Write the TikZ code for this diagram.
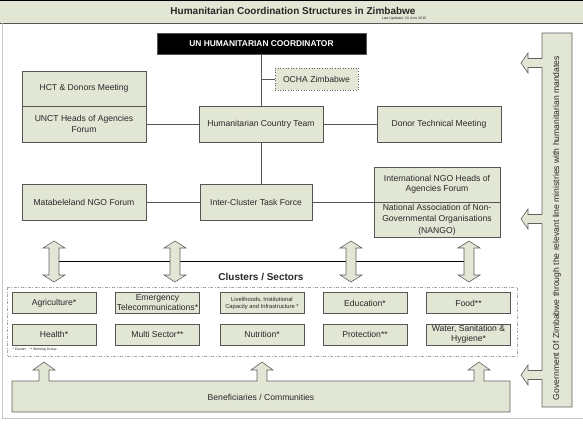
\documentclass[tikz,border=0pt]{standalone}
\usepackage{fontspec}
\setmainfont{Liberation Sans}
\definecolor{boxfill}{RGB}{226,230,212}
\definecolor{edgecol}{RGB}{85,85,85}
\definecolor{txtcol}{RGB}{40,40,40}
\begin{document}
\begin{tikzpicture}[x=1pt,y=-1pt,
  box/.style={draw=edgecol, fill=boxfill, line width=0.6pt, inner sep=0pt, text=txtcol,
    font=\fontsize{8.6}{10.5}\selectfont, align=center},
  cl/.style={box, minimum width=84pt, minimum height=21pt, font=\fontsize{8.6}{10}\selectfont},
  conn/.style={draw=edgecol, line width=0.6pt},
  blockarrow/.style={draw=gray!75!black, fill=boxfill, line width=0.6pt},
  dbl/.pic={\draw[blockarrow] (0,-20.5) -- (11,-13.5) -- (5,-13.5) -- (5,13.5) -- (11,13.5)
     -- (0,20.5) -- (-11,13.5) -- (-5,13.5) -- (-5,-13.5) -- (-11,-13.5) -- cycle;}]
\useasboundingbox (0,0) rectangle (583,447);
% title bar
\fill[boxfill] (0,0) rectangle (583,23);
\draw[black, line width=1.2pt] (0,0.6) -- (583,0.6);
\draw[edgecol, line width=0.8pt] (0,23) -- (583,23);
\node[font=\bfseries\fontsize{10}{12}\selectfont, text=txtcol] (title) at (293,10.5) {Humanitarian Coordination Structures in Zimbabwe};
\node[font=\fontsize{3.5}{4}\selectfont, text=txtcol] (upd) at (404,18.5) {Last Updated: 24 June 2010};
% outer frame
\draw[gray!45, line width=1pt] (2.5,23) -- (2.5,418) -- (583,418);

% top nodes
\node[box, fill=black, text=white, font=\bfseries\fontsize{8.4}{10}\selectfont,
  minimum width=209pt, minimum height=21pt] (un) at (261.5,43.5) {UN HUMANITARIAN COORDINATOR};
\node[box, draw=gray!80!black, dotted, line width=0.9pt, minimum width=83pt, minimum height=22pt] (ocha) at (316.5,79) {OCHA Zimbabwe};
\node[box, minimum width=124pt, minimum height=35pt] (hctd) at (84,88.5) {HCT \& Donors Meeting};
\node[box, minimum width=124pt, minimum height=36pt] (unct) at (84,124) {UNCT Heads of Agencies\\Forum};
\node[box, minimum width=124pt, minimum height=36pt] (hct) at (261,124) {Humanitarian Country Team};
\node[box, minimum width=124pt, minimum height=36pt] (dtm) at (439,124) {Donor Technical Meeting};
\node[box, minimum width=124pt, minimum height=36pt] (mat) at (84,202) {Matabeleland NGO Forum};
\node[box, minimum width=112pt, minimum height=36pt] (ictf) at (256,202) {Inter-Cluster Task Force};
\node[box, minimum width=126pt, minimum height=35pt] (ingo) at (437,184.5) {International NGO Heads of\\Agencies Forum};
\node[box, minimum width=126pt, minimum height=35pt, font=\fontsize{8.6}{11.3}\selectfont] (nango) at (437,219.5) {National Association of Non-\\Governmental Organisations\\(NANGO)};

% connectors
\coordinate (ochaj) at (261,79);
\draw[conn] (un.south -| hct.north) -- (hct.north);
\draw[conn] (ochaj) -- (ocha.west);
\draw[conn] (unct.east) -- (hct.west);
\draw[conn] (hct.east) -- (dtm.west);
\draw[conn] (hct.south) -- (hct.south |- ictf.north);
\draw[conn] (mat.east) -- (ictf.east -| ictf.west);
\draw[conn] (ictf.east) -- (ictf.east -| ingo.west);

% double arrows and thick line
\coordinate (da1) at (54,261.5);
\coordinate (da2) at (175,261.5);
\coordinate (da3) at (351,261.5);
\coordinate (da4) at (469,261.5);
\draw[black, line width=1.6pt] (da1) -- (da4);
\pic at (da1) {dbl};
\pic at (da2) {dbl};
\pic at (da3) {dbl};
\pic at (da4) {dbl};

\node[font=\bfseries\fontsize{10}{12}\selectfont, text=txtcol] (clusters) at (261,277) {Clusters / Sectors};

% clusters
\draw[gray!70, line width=0.5pt, dash pattern=on 3pt off 1.5pt on 1pt off 1.5pt] (7,287) rectangle (517,356);
\node[cl] (agri) at (54,303) {Agriculture*};
\node[cl] (emer) at (157.5,303) {Emergency\\Telecommunications*};
\node[cl, font=\fontsize{5.8}{7}\selectfont] (liv) at (262,303) {Livelihoods, Institutional\\Capacity and Infrastructure *};
\node[cl] (edu) at (365,303) {Education*};
\node[cl] (food) at (468.5,303) {Food**};
\node[cl] (health) at (54,334.5) {Health*};
\node[cl] (multi) at (157.5,334.5) {Multi Sector**};
\node[cl] (nutr) at (262,334.5) {Nutrition*};
\node[cl] (prot) at (365,334.5) {Protection**};
\node[cl] (wash) at (468.5,334.5) {Water, Sanitation \&\\Hygiene*};
\node[font=\fontsize{3.5}{4}\selectfont, text=txtcol, anchor=west] (legend) at (9,350) {* Cluster\quad ** Working Group};

% beneficiaries
\draw[blockarrow] (12,412) -- (12,381)
  -- (39,381) -- (39,370) -- (33,370) -- (44,362) -- (55,370) -- (49,370) -- (49,381)
  -- (257,381) -- (257,370) -- (251,370) -- (262,362) -- (273,370) -- (267,370) -- (267,381)
  -- (474,381) -- (474,370) -- (468,370) -- (479,362) -- (490,370) -- (484,370) -- (484,381)
  -- (510,381) -- (510,412) -- cycle;
\node[font=\fontsize{8.6}{10}\selectfont, text=txtcol] (benef) at (261,397) {Beneficiaries / Communities};

% government bar
\draw[blockarrow] (542,33) -- (572,33) -- (572,407) -- (542,407)
  -- (542,379.5) -- (528,379.5) -- (528,385) -- (521,375) -- (528,365) -- (528,370.5) -- (542,370.5)
  -- (542,223.5) -- (528,223.5) -- (528,229) -- (521,219) -- (528,209) -- (528,214.5) -- (542,214.5)
  -- (542,67.5) -- (528,67.5) -- (528,73) -- (521,63) -- (528,53) -- (528,58.5) -- (542,58.5)
  -- cycle;
\node[rotate=90, font=\fontsize{8.6}{10}\selectfont, text=txtcol] (gov) at (557,228) {Government Of Zimbabwe through the relevant line ministries with humanitarian mandates};
\end{tikzpicture}
\end{document}
